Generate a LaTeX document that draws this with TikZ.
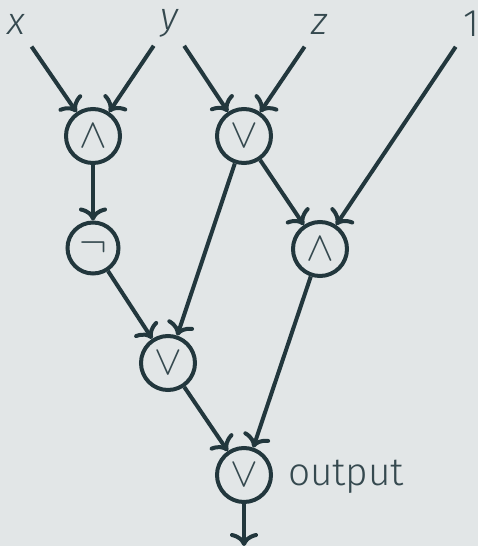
\documentclass[tikz,border=0pt]{standalone}
\usepackage{fontspec}
\usetikzlibrary{arrows.meta}
\setmainfont{Fira Sans Light}[ItalicFont={Fira Sans Light Italic}]
\definecolor{inkdark}{HTML}{22373D}
\definecolor{inktext}{HTML}{35494F}
\definecolor{paper}{HTML}{E2E6E7}
\tikzset{
  gate/.style={circle, draw=inkdark, line width=2pt, minimum size=27pt, inner sep=0pt, text=inktext, font=\fontsize{21}{21}\selectfont},
  notgate/.style={gate, minimum size=25.5pt},
  wire/.style={-{Computer Modern Rightarrow[width=14pt,length=6.5pt]}, line width=2pt, draw=inkdark},
  inputlab/.style={circle, minimum size=27pt, inner sep=0pt, text=inktext, font=\fontsize{19.2}{19.2}\selectfont\itshape},
}
\begin{document}
\begin{tikzpicture}[x=.5pt,y=-.5pt]
\fill [paper] (0,0) rectangle (478,546);
\useasboundingbox (0,0) rectangle (478,546);
\node [inputlab] (inx) at (16,24) {x};
\node [inputlab] (iny) at (169,23) {y};
\node [inputlab] (inz) at (320,24) {z};
\node [inputlab, font=\fontsize{19.2}{19.2}\selectfont] (inone) at (471,24) {1};
\node [gate] (andA) at (93,136) {$\wedge$};
\node [gate] (orA) at (244,136) {$\vee$};
\node [notgate] (notA) at (93,248) {$\neg$};
\node [gate] (andB) at (320,249) {$\wedge$};
\node [gate] (orB) at (168,363) {$\vee$};
\node [gate] (orC) at (244,475) {$\vee$};
\node [right, text=inktext, font=\fontsize{19.4}{19.4}\selectfont] (outlab) at (281,477) {output};
\coordinate (outend) at (244,546);
\draw [wire] (inx) -- (andA);
\draw [wire] (iny) -- (andA);
\draw [wire] (iny) -- (orA);
\draw [wire] (inz) -- (orA);
\draw [wire] (inone) -- (andB);
\draw [wire] (andA) -- (notA);
\draw [wire] (orA) -- (andB);
\draw [wire] (orA) -- (orB);
\draw [wire] (notA) -- (orB);
\draw [wire] (andB) -- (orC);
\draw [wire] (orB) -- (orC);
\draw [wire] (orC) -- (outend);
\end{tikzpicture}
\end{document}
